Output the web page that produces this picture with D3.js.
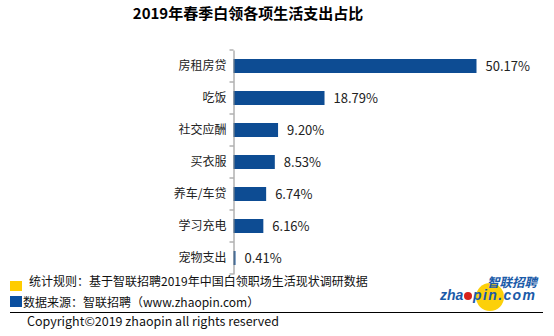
<!DOCTYPE html>
<html><head><meta charset="utf-8">
<script src="https://cdn.jsdelivr.net/npm/d3@7"></script>
<style>
body{margin:0;background:#fff;}
svg{display:block;font-family:"Noto Sans CJK SC","Noto Sans",sans-serif;}
</style></head>
<body><svg id="c" width="554" height="336"></svg>
<script>
const categories = ["房租房贷","吃饭","社交应酬","买衣服","养车/车贷","学习充电","宠物支出"];
const values = [50.17, 18.79, 9.20, 8.53, 6.74, 6.16, 0.41];
const valueLabels = ["50.17%","18.79%","9.20%","8.53%","6.74%","6.16%","0.41%"];
const title = "2019年春季白领各项生活支出占比";
const notes = ["统计规则：基于智联招聘2019年中国白领职场生活现状调研数据","数据来源：智联招聘（www.zhaopin.com）"];
const copyright = "Copyright©2019 zhaopin all rights reserved";

const svg = d3.select("#c");
const x0 = 233.5;
const x = d3.scaleLinear().domain([0, 50.17]).range([x0, 476.5]);
const y = d3.scaleBand().domain(categories).range([50, 274]).paddingInner(0.5625).paddingOuter(0.28125);

svg.append("text").attr("x", 248).attr("y", 19).attr("text-anchor","middle")
  .attr("font-size", 15).attr("font-weight","bold").attr("fill","#000").text(title);

// bars
svg.selectAll("rect.bar").data(values).join("rect").attr("class","bar")
  .attr("x", x0).attr("y", (d,i)=>y(categories[i]))
  .attr("width", d=>x(d)-x0).attr("height", y.bandwidth())
  .attr("fill","#0d4c93");

// value labels
svg.selectAll("text.val").data(values).join("text").attr("class","val")
  .attr("x", d=>x(d)+9).attr("y", (d,i)=>y(categories[i])+y.bandwidth()/2)
  .attr("dy","0.36em").attr("font-size",13).attr("fill","#222")
  .text((d,i)=>valueLabels[i]);

// axis
const bandY = d3.scaleBand().domain(categories).range([50,274]);
const axis = d3.axisLeft(bandY).tickSize(0).tickPadding(7);
const g = svg.append("g").attr("transform",`translate(${x0},0)`).call(axis);
g.select(".domain").attr("stroke","#8a8a8a");
g.selectAll("text").attr("font-size",12).attr("fill","#222")
  .attr("font-family","'Noto Sans CJK SC',sans-serif");
const bounds = d3.range(categories.length+1).map(i=>50+i*bandY.step());
g.selectAll("line.bt").data(bounds).join("line").attr("class","bt")
  .attr("x1",-4).attr("x2",0).attr("y1",d=>d).attr("y2",d=>d).attr("stroke","#8a8a8a");

// footer legend
svg.append("rect").attr("x",10).attr("y",281).attr("width",12).attr("height",10).attr("fill","#ffcc00");
svg.append("rect").attr("x",10).attr("y",296).attr("width",12).attr("height",11).attr("fill","#0a4fa0");
svg.append("text").attr("x",29).attr("y",286).attr("font-size",12).attr("fill","#111").text(notes[0]);
svg.append("text").attr("x",23).attr("y",307).attr("font-size",12).attr("fill","#111").text(notes[1]);
svg.append("line").attr("x1",10).attr("x2",543).attr("y1",312.5).attr("y2",312.5).attr("stroke","#000").attr("stroke-width",1);
svg.append("text").attr("x",27).attr("y",326).attr("font-size",12.5).attr("fill","#111").text(copyright);

// logo
svg.append("circle").attr("cx",490).attr("cy",297).attr("r",14).attr("fill","#fcd00a");
svg.append("circle").attr("cx",468).attr("cy",296).attr("r",4).attr("fill","#d8231a");
svg.append("text").attr("x",537).attr("y",287).attr("text-anchor","end").attr("font-size",12.5)
  .attr("font-weight","bold").attr("font-style","italic").attr("fill","#1a5aa8").text("智联招聘");
const logoFont = "'Liberation Sans',Arial,sans-serif";
svg.append("text").attr("x",440).attr("y",300).attr("font-size",14)
  .attr("font-weight","bold").attr("font-style","italic").attr("fill","#1a5aa8")
  .attr("font-family",logoFont).text("zha");
svg.append("text").attr("x",473).attr("y",300).attr("font-size",14)
  .attr("font-weight","bold").attr("font-style","italic").attr("fill","#1a5aa8")
  .attr("font-family",logoFont).attr("textLength",62).text("pin.com");
</script></body></html>
